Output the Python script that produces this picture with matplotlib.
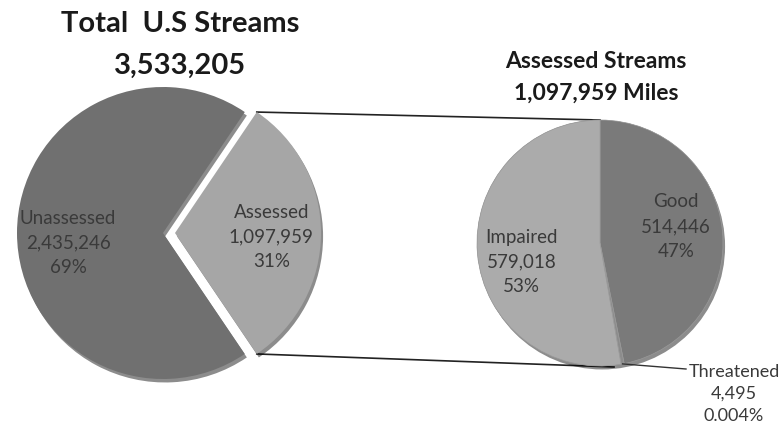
import numpy as np
import matplotlib
matplotlib.use("Agg")
import matplotlib.pyplot as plt
import matplotlib.patheffects as pe
from matplotlib.patches import Circle

# data
total_labels = ["Assessed", "Unassessed"]
total_values = [1097959, 2435246]
total_pcts = ["31%", "69%"]
total_colors = ["#a6a6a6", "#707070"]

assessed_labels = ["Good", "Threatened", "Impaired"]
assessed_values = [514446, 4495, 579018]
assessed_pcts = ["47%", "0.004%", "53%"]
assessed_colors = ["#7a7a7a", "#8c8c8c", "#ababab"]

W, H = 782, 427
plt.rcParams['font.family'] = ['Lato', 'DejaVu Sans']

fig = plt.figure(figsize=(W / 100, H / 100), dpi=100)
ax = fig.add_axes([0, 0, 1, 1])

shadow = [pe.SimplePatchShadow(offset=(1.5, -2.5), shadow_rgbFace='black', alpha=0.45), pe.Normal()]

# left pie, assessed slice centred on the right and pulled out
frac = total_values[0] / sum(total_values)
left_c, left_r = (163, H - 234), 146
lw, _ = ax.pie(total_values, colors=total_colors, center=left_c, radius=left_r,
               startangle=frac * 180, counterclock=False, explode=[12, 0],
               wedgeprops=dict(linewidth=0), frame=True)
for w in lw:
    w.set_path_effects(shadow)
    w.set_zorder(3)

right_c, right_r = (600, H - 244), 123
rw, _ = ax.pie(assessed_values, colors=assessed_colors, center=right_c, radius=right_r,
               startangle=90, counterclock=False,
               wedgeprops=dict(linewidth=0.5, edgecolor='#9a9a9a'), frame=True)
for w in rw:
    w.set_zorder(3)
# one shadow under the whole second pie
base = Circle(right_c, right_r, facecolor='#888888', edgecolor='none', zorder=2.5)
base.set_path_effects(shadow)
ax.add_patch(base)


def wedge_point(w, ang, dist):
    a = np.radians(ang)
    return w.center[0] + dist * w.r * np.cos(a), w.center[1] + dist * w.r * np.sin(a)


# connector lines from the pulled-out slice to the second pie
aw = lw[0]
corners = [wedge_point(aw, aw.theta1, 1.0), wedge_point(aw, aw.theta2, 1.0)]
corners.sort(key=lambda p: -p[1])
top_end = (right_c[0], right_c[1] + right_r)
bot_end = (right_c[0] + 14, right_c[1] - right_r - 1)
for (x0, y0), (x1, y1) in zip(corners, [top_end, bot_end]):
    ax.plot([x0, x1], [y0, y1], color='#222222', lw=1.2, zorder=2)

txt = dict(ha='center', va='center', fontsize=13.5, color='#3a3a3a', linespacing=1.55, zorder=5)


def slice_label(w, name, value, pct, dist, dx=0, dy=0):
    mid = (w.theta1 + w.theta2) / 2
    x, y = wedge_point(w, mid, dist)
    ax.text(x + dx, y + dy, f"{name}\n{value:,}\n{pct}", **txt)


slice_label(lw[0], total_labels[0], total_values[0], total_pcts[0], 0.66, dy=-3)
slice_label(lw[1], total_labels[1], total_values[1], total_pcts[1], 0.65, dy=-9)
slice_label(rw[0], assessed_labels[0], assessed_values[0], assessed_pcts[0], 0.62, dy=10)
slice_label(rw[2], assessed_labels[2], assessed_values[2], assessed_pcts[2], 0.64, dy=-11)

# threatened label with leader line
tw = rw[1]
tx, ty = wedge_point(tw, (tw.theta1 + tw.theta2) / 2, 1.0)
ax.plot([tx, 686], [ty, H - 370], color='#333333', lw=1, zorder=4)
ax.text(734, H - 394, f"{assessed_labels[1]}\n{assessed_values[1]:,}\n{assessed_pcts[1]}",
        ha='center', va='center', fontsize=13, color='#3a3a3a', linespacing=1.45, zorder=5)

# titles
title = dict(ha='center', va='center', fontweight='bold', color='#1a1a1a')
ax.text(180, H - 24, "Total  U.S Streams", fontsize=21, **title)
ax.text(180, H - 66, f"{sum(total_values):,}", fontsize=21, **title)
ax.text(596, H - 61, "Assessed Streams", fontsize=16.5, **title)
ax.text(596, H - 93, f"{sum(assessed_values):,} Miles", fontsize=16.5, **title)

ax.set_xlim(0, W)
ax.set_ylim(0, H)
ax.set_aspect('equal')
ax.axis('off')

fig.savefig("out.png", dpi=100, facecolor='white')
